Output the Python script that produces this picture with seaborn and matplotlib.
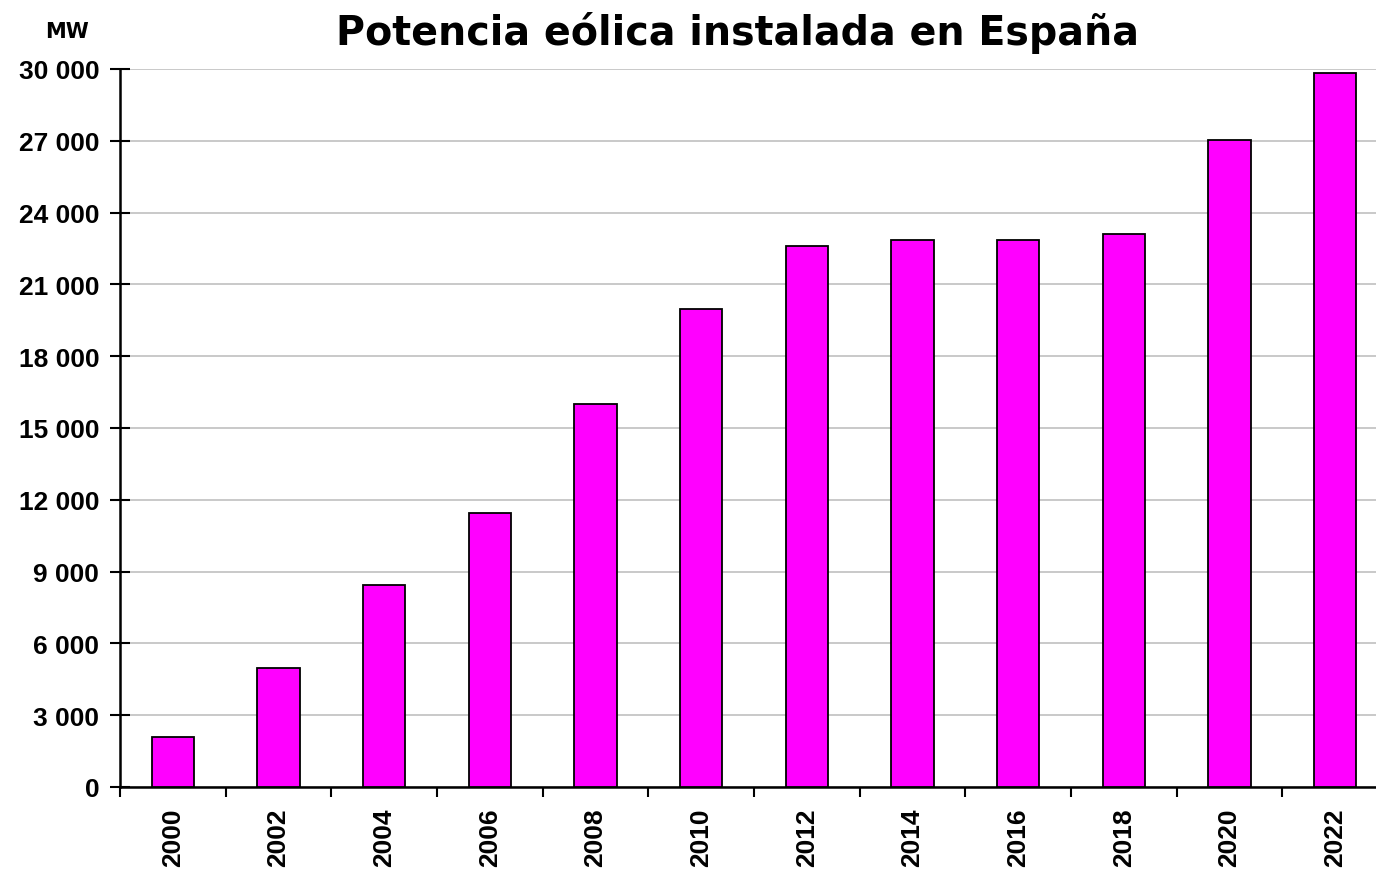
import pandas as pd
import seaborn as sns
import matplotlib.pyplot as plt
from matplotlib.ticker import FuncFormatter, FixedLocator

sns.set_theme(style="white")
plt.rcParams['font.family'] = ['Liberation Sans', 'DejaVu Sans']
plt.rcParams['text.color'] = 'black'
plt.rcParams['xtick.color'] = 'black'
plt.rcParams['ytick.color'] = 'black'

years = ['2000', '2002', '2004', '2006', '2008', '2010',
         '2012', '2014', '2016', '2018', '2020', '2022']
mw = [2090, 4950, 8450, 11450, 16000, 19950,
      22620, 22860, 22870, 23100, 27050, 29820]

df = pd.DataFrame({'year': years, 'mw': mw})

fig = plt.figure(figsize=(13.76, 8.70), dpi=100)
ax = fig.add_axes([0.0872, 0.0943, 0.9215, 0.8253])

sns.barplot(data=df, x='year', y='mw', color='#FF00FF', saturation=1,
            width=0.4, edgecolor='black', linewidth=1.3, ax=ax, zorder=3)

ax.set_xlim(-0.5, len(years) - 0.5)
ax.set_ylim(0, 30000)
ax.set_yticks(range(0, 30001, 3000))
ax.yaxis.set_major_formatter(FuncFormatter(lambda v, p: f"{int(v):,}".replace(',', ' ')))
ax.grid(axis='y', color='#c0c0c0', linewidth=1.2, zorder=0)
ax.set_axisbelow(True)

ax.set_xlabel('')
ax.set_ylabel('')
ax.set_xticks(range(len(years)))
ax.set_xticklabels(years, rotation=90, fontweight='bold', fontsize=19)
ax.tick_params(axis='x', which='major', length=0, pad=15)
ax.xaxis.set_minor_locator(FixedLocator([i - 0.5 for i in range(len(years) + 1)]))
ax.tick_params(axis='x', which='minor', direction='out', length=7, width=1.5,
               color='black', bottom=True)
ax.tick_params(axis='y', direction='inout', length=14, width=1.5, color='black',
               left=True, labelsize=19, pad=8)
for lab in ax.get_yticklabels():
    lab.set_fontweight('bold')

sns.despine(ax=ax, top=True, right=True)
for s in ['left', 'bottom']:
    ax.spines[s].set_color('black')
    ax.spines[s].set_linewidth(1.8)

fig.text(0.536, 0.962, 'Potencia eólica instalada en España', ha='center', va='center',
         fontsize=28.5, fontweight='bold', family=['DejaVu Sans'])
fig.text(0.049, 0.963, 'MW', ha='center', va='center', fontsize=15,
         fontweight='bold', family=['DejaVu Sans'])

fig.savefig('out.png', dpi=100)
